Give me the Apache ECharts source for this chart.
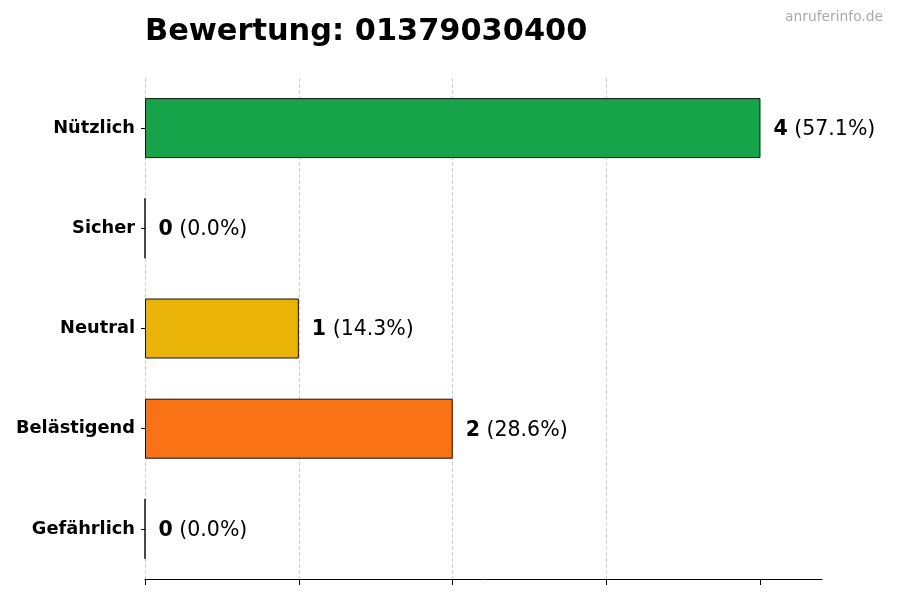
<!DOCTYPE html>
<html>
<head>
<meta charset="utf-8">
<script src="https://cdn.jsdelivr.net/npm/echarts@6/dist/echarts.min.js"></script>
<style>
html,body{margin:0;padding:0;background:#fff;}
#c{width:900px;height:600px;}
</style>
</head>
<body>
<div id="c"></div>
<script>
const categories = ['Nützlich', 'Sicher', 'Neutral', 'Belästigend', 'Gefährlich'];
const values = [4, 0, 1, 2, 0];
const colors = ['#16a34a', '#3b82f6', '#eab308', '#f97316', '#dc2626'];
const xTicks = [0, 1, 2, 3, 4];
const titleText = 'Bewertung: 01379030400';
const watermark = 'anruferinfo.de';

const total = values.reduce((a, b) => a + b, 0);
const FONT = 'DejaVu Sans';

const chart = echarts.init(document.getElementById('c'), null, {renderer: 'canvas'});
chart.setOption({
  backgroundColor: '#fff',
  animation: false,
  textStyle: {fontFamily: FONT},
  title: {
    text: titleText,
    left: 140,
    top: 12,
    textStyle: {fontFamily: FONT, fontSize: 30.4, fontWeight: 'bold', color: '#000'}
  },
  graphic: [{
    type: 'text',
    right: 17,
    top: 10,
    style: {text: watermark, fill: '#aaaaaa', font: '13.8px "DejaVu Sans"'}
  }],
  grid: {left: 145, right: 78, top: 78, bottom: 21, containLabel: false},
  xAxis: {
    type: 'value',
    min: 0,
    max: 4.4,
    interval: 1,
    axisLine: {show: true, lineStyle: {color: '#000', width: 1}},
    axisTick: {show: true, length: 6, customValues: xTicks, lineStyle: {color: '#000'}},
    axisLabel: {show: false},
    splitLine: {show: true, showMaxLine: false, lineStyle: {type: 'dashed', color: '#d0d0d0', width: 1}}
  },
  yAxis: {
    type: 'category',
    data: categories,
    inverse: true,
    axisLine: {show: false},
    axisTick: {show: true, length: 4, alignWithLabel: true, lineStyle: {color: '#000'}},
    axisLabel: {fontFamily: FONT, fontSize: 17.8, fontWeight: 'bold', color: '#000', margin: 10},
    splitLine: {show: false}
  },
  series: [{
    type: 'bar',
    barWidth: 60,
    data: values.map((v, i) => ({value: v, itemStyle: {color: colors[i]}})),
    itemStyle: {borderColor: '#111', borderWidth: 1},
    label: {
      show: true,
      position: 'right',
      distance: 13,
      offset: [0, 1.5],
      formatter: p => '{b|' + p.value + '}{n| (' + (p.value / total * 100).toFixed(1) + '%)}',
      rich: {
        b: {fontFamily: FONT, fontSize: 20.5, fontWeight: 'bold', color: '#000'},
        n: {fontFamily: FONT, fontSize: 20.5, color: '#000'}
      }
    }
  }]
});
</script>
</body>
</html>
